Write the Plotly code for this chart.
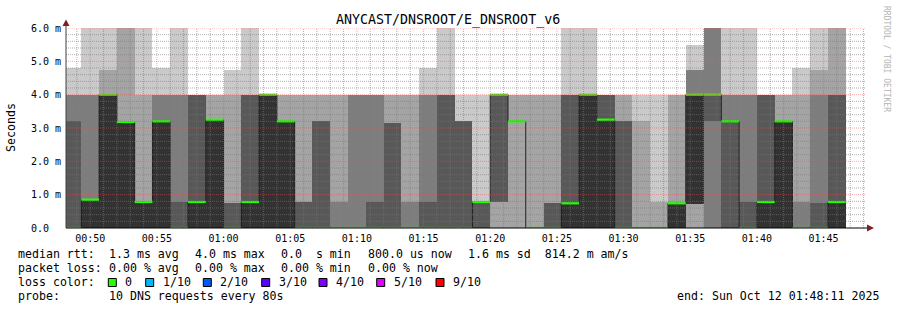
import plotly.graph_objects as go
from datetime import datetime, timedelta

# ---------------- data ----------------
first_step_start = "2025-10-12 00:48:00"
step_seconds = 80
view_start = "2025-10-12 00:48:11"
view_end = "2025-10-12 01:48:11"

# sorted ping times (ms) per 80 s step, ping1 = fastest ... ping10 = slowest (clipped at 6.0)
ping1 = [0, 0, 0, 0, 0, 0, 0, 0, 0, 0, 0, 0, 0, 0, 0, 0, 0, 0, 0, 0, 0, 0,
         0, 0, 0, 0, 0, 0, 0, 0, 0, 0, 0, 0, 0, 0, 0, 0, 0, 0, 0, 0, 0, 0]
ping2 = [0, 0, 0, 0, 0, 0, 0, 0, 0, 0, 0, 0, 0, 0, 0, 0, 0, 0, 0, 0, 0, 0,
         0, 0, 0, 0, 0, 0, 0, 0, 0, 0, 0, 0, 0, 0, 0, 0, 0, 0, 0, 0, 0, 0]
ping3 = [0, 0, 0, 0, 0, 0, 0, 0, 0, 0, 0, 0, 0, 0, 0, 0, 0, 0, 0, 0, 0, 0,
         0, 0, 0.78, 3.2, 0, 0, 0, 0, 0, 0, 0, 0, 0, 0.72, 0, 0, 0, 0, 0, 0, 0, 0]
ping4 = [0, 0, 0, 0, 0, 0, 0, 0, 0, 0, 0, 0, 0, 0, 0, 0, 0, 0, 0, 0, 0, 0,
         0, 0, 0.78, 3.2, 0, 0, 0, 0, 0, 0, 0, 0, 0, 0.72, 3.2, 0, 0, 0, 0, 0, 0, 0]
ping5 = [0, 0, 0, 0, 0, 0, 0, 0, 0, 0, 0, 0, 0, 0, 0, 0, 0, 0, 0, 0, 0, 0,
         0, 0.78, 4.0, 3.2, 0, 0, 0, 0, 0, 0, 0, 0, 0, 0.72, 4.0, 3.2, 0, 0, 0, 0, 0, 0]
ping6 = [0, 0.85, 4.0, 3.18, 0.78, 3.2, 0, 0.78, 3.25, 0, 0.78, 4.0, 3.2, 0, 0, 0,
         0, 0, 0, 0, 0, 0, 0, 0.78, 4.0, 3.2, 0, 0, 0.74, 4.0, 3.25, 0, 0, 0, 0.75,
         4.0, 4.0, 3.2, 0, 0.78, 3.2, 0, 0, 0.78]
ping7 = [3.2, 0.85, 4.0, 3.18, 0.78, 3.2, 0.78, 4.0, 3.25, 0.75, 4.0, 4.0, 3.2, 0.78,
         3.2, 0, 0, 0.78, 3.15, 0, 0.78, 4.0, 3.2, 0.78, 4.0, 3.2, 0, 0.75, 4.0, 4.0,
         4.0, 3.2, 0, 0, 0.75, 4.0, 4.0, 3.2, 0.78, 4.0, 3.2, 0, 0.75, 4.0]
ping8 = [4.0, 4.0, 4.0, 3.18, 0.78, 4.0, 4.0, 4.0, 3.25, 0.75, 4.0, 4.0, 3.2, 0.78,
         3.2, 0.78, 4.0, 4.0, 3.15, 0.78, 4.0, 4.0, 3.2, 0.78, 4.0, 3.2, 0, 0.75, 4.0,
         4.0, 4.0, 3.2, 0, 0, 0.75, 4.74, 6.0, 4.0, 4.0, 4.0, 3.2, 0.78, 4.0, 4.0]
ping9 = [4.0, 4.0, 4.74, 6.0, 4.0, 4.0, 4.0, 4.0, 4.0, 4.0, 4.0, 4.0, 4.0, 4.0, 4.0,
         4.0, 4.0, 4.0, 4.0, 4.0, 4.0, 4.0, 3.2, 0.78, 4.0, 4.0, 4.0, 4.0, 4.0, 4.0,
         4.0, 4.0, 3.2, 0.78, 4.0, 4.74, 6.0, 4.0, 4.0, 4.0, 4.0, 4.0, 4.74, 6.0]
ping10 = [4.8, 6.0, 6.0, 6.0, 6.0, 4.8, 6.0, 4.0, 4.0, 4.74, 6.0, 4.0, 4.0, 4.0, 4.0,
          4.0, 4.0, 4.0, 4.0, 4.0, 4.8, 6.0, 4.0, 4.0, 4.0, 4.0, 4.0, 4.0, 6.0, 6.0,
          4.0, 4.0, 4.0, 4.0, 4.0, 5.5, 6.0, 6.0, 6.0, 4.0, 4.0, 4.8, 6.0, 6.0]
median = [0, 0.85, 4.0, 3.18, 0.78, 3.2, 0, 0.78, 3.25, 0, 0.78, 4.0, 3.2, 0, 0, 0,
          0, 0, 0, 0, 0, 0, 0, 0.78, 4.0, 3.2, 0, 0, 0.74, 4.0, 3.25, 0, 0, 0, 0.74,
          4.0, 4.0, 3.2, 0, 0.78, 3.2, 0, 0, 0.78]

y_tick_values = [0, 1, 2, 3, 4, 5, 6]
y_tick_labels = ["0.0\u00a0\u00a0", "1.0 m", "2.0 m", "3.0 m", "4.0 m", "5.0 m", "6.0 m"]
x_tick_times = ["00:50", "00:55", "01:00", "01:05", "01:10", "01:15", "01:20",
                "01:25", "01:30", "01:35", "01:40", "01:45"]

title_text = "ANYCAST/DNSROOT/E_DNSROOT_v6"
loss_labels = ["0", "1/10", "2/10", "3/10", "4/10", "5/10", "9/10"]
loss_colors = ["#26ff00", "#00b8ff", "#0059ff", "#5e00ff", "#7e00ff", "#dd00ff", "#ff0000"]

# ---------------- styling ----------------
smoke_colors = ["#cacaca", "#a4a4a4", "#7e7e7e", "#585858", "#323232"]
MONO = "DejaVu Sans Mono"
W, H = 897, 310
PL, PR, PT, PB = 66, 866, 28, 228  # plot area in pixels


def px(x):
    return (x - PL) / (PR - PL)


def py(y):
    return (PB - y) / (PB - PT)


t0 = datetime.fromisoformat(first_step_start)
pings = [ping1, ping2, ping3, ping4, ping5, ping6, ping7, ping8, ping9, ping10]
n = len(median)
starts = [t0 + timedelta(seconds=step_seconds * i) for i in range(n)]
ends = [s + timedelta(seconds=step_seconds) for s in starts]
centers = [s + timedelta(seconds=step_seconds / 2) for s in starts]

fig = go.Figure()

# smoke bands: ping k .. ping (11-k)
for k in range(5):
    lo = pings[k]
    hi = pings[9 - k]
    fig.add_trace(go.Bar(
        x=centers, base=lo, y=[h - l for h, l in zip(hi, lo)],
        width=step_seconds * 1000, marker=dict(color=smoke_colors[k], line=dict(width=0)),
        hoverinfo="skip", showlegend=False))

# median dark step line
fig.add_trace(go.Scatter(
    x=starts + [ends[-1]], y=median + [median[-1]], mode="lines",
    line=dict(color="#202020", width=1, shape="hv"), hoverinfo="skip", showlegend=False))

# green median marks (loss 0)
gx, gy = [], []
for s, e, m in zip(starts, ends, median):
    gx += [s, e, None]
    gy += [m, m, None]
fig.add_trace(go.Scatter(x=gx, y=gy, mode="lines", line=dict(color=loss_colors[0], width=2.2),
                         hoverinfo="skip", showlegend=False))

shapes = []
# grid (drawn above the smoke like rrdtool)
minor_col = "rgba(120,120,120,0.58)"
major_col = "rgba(230,80,80,0.48)"
for k in range(1, 31):
    v = k * 0.2
    major = (k % 5 == 0)
    shapes.append(dict(type="line", xref="paper", yref="y", x0=0, x1=1, y0=v, y1=v,
                       line=dict(color=major_col if major else minor_col, width=1, dash="1px,1px"),
                       layer="above"))
vs = datetime.fromisoformat(view_start)
ve = datetime.fromisoformat(view_end)
t = vs.replace(second=0) + timedelta(minutes=1)
while t <= ve:
    major = (t.minute % 5 == 0)
    shapes.append(dict(type="line", xref="x", yref="paper", x0=t, x1=t, y0=0, y1=1,
                       line=dict(color=major_col if major else minor_col, width=1, dash="1px,1px"),
                       layer="above"))
    t += timedelta(minutes=1)

# axes
shapes.append(dict(type="line", xref="paper", yref="paper", x0=px(66), x1=px(868), y0=0, y1=0,
                   line=dict(color="#000000", width=1), layer="above"))
shapes.append(dict(type="line", xref="paper", yref="paper", x0=0, x1=0, y0=0, y1=py(23),
                   line=dict(color="#404040", width=1), layer="above"))
# arrows
shapes.append(dict(type="path", xref="paper", yref="paper",
                   path=f"M {px(62.5)} {py(26)} L {px(69.5)} {py(26)} L {px(66)} {py(19.5)} Z",
                   fillcolor="#7f1f1f", line=dict(width=0), layer="above"))
shapes.append(dict(type="path", xref="paper", yref="paper",
                   path=f"M {px(867)} {py(224.5)} L {px(867)} {py(231.5)} L {px(874)} {py(228)} Z",
                   fillcolor="#7f1f1f", line=dict(width=0), layer="above"))

annotations = []


def text(x, y, s, size=11.6, color="#000000", xanchor="left", angle=0):
    annotations.append(dict(x=px(x), y=py(y), xref="paper", yref="paper", text=s, showarrow=False,
                            xanchor=xanchor, yanchor="middle", textangle=angle,
                            font=dict(family=MONO, size=size, color=color)))


text(448, 19.5, title_text, size=13.3, xanchor="center")
text(11, 127, "Seconds", size=11.6, xanchor="center", angle=-90)
text(887, 59, "RRDTOOL / TOBI OETIKER", size=8, color="#b4b4b4", xanchor="center", angle=90)

row1, row2, row3, row4 = 254, 268, 282, 296
text(16, row1, "median rtt:")
text(107.3, row1, "1.3 ms avg")
text(192.7, row1, "4.0 ms max")
text(279.3, row1, "0.0\u00a0\u00a0s min")
text(365.7, row1, "800.0 us now")
text(466, row1, "1.6 ms sd\u00a0\u00a0814.2 m am/s")

text(16, row2, "packet loss:")
text(107.3, row2, "0.00 % avg")
text(192.7, row2, "0.00 % max")
text(279.3, row2, "0.00 % min")
text(365.7, row2, "0.00 % now")

text(16, row3, "loss color:")
sq_x = [108.3, 145.7, 203.3, 261.7, 319, 376.7, 436]
for sx, lab, col in zip(sq_x, loss_labels, loss_colors):
    shapes.append(dict(type="rect", xref="paper", yref="paper", x0=px(sx), x1=px(sx + 8),
                       y0=py(278.5), y1=py(286.5), fillcolor=col,
                       line=dict(color="#000000", width=1), layer="above"))
    text(sx + 15, row3, lab)

text(16, row4, "probe:")
text(107.3, row4, "10 DNS requests every 80s")
text(880.7, row4, "end: Sun Oct 12 01:48:11 2025", xanchor="right")

fig.update_layout(
    width=W, height=H,
    margin=dict(l=PL, r=W - PR, t=PT, b=H - PB),
    paper_bgcolor="#ffffff", plot_bgcolor="#ffffff",
    barmode="overlay", bargap=0, showlegend=False,
    shapes=shapes, annotations=annotations,
    xaxis=dict(range=[view_start, view_end], type="date", showgrid=False, zeroline=False,
               showline=False, ticks="", ticklabelstandoff=3,
               tickvals=[f"2025-10-12 {hm}:00" for hm in x_tick_times], ticktext=x_tick_times,
               tickfont=dict(family=MONO, size=10, color="#000000"), fixedrange=True),
    yaxis=dict(range=[0, 6], showgrid=False, zeroline=False, showline=False, ticks="",
               tickvals=y_tick_values, ticktext=y_tick_labels, ticklabelstandoff=4,
               tickfont=dict(family=MONO, size=10, color="#000000"), fixedrange=True),
)

fig.write_html("out.html")
